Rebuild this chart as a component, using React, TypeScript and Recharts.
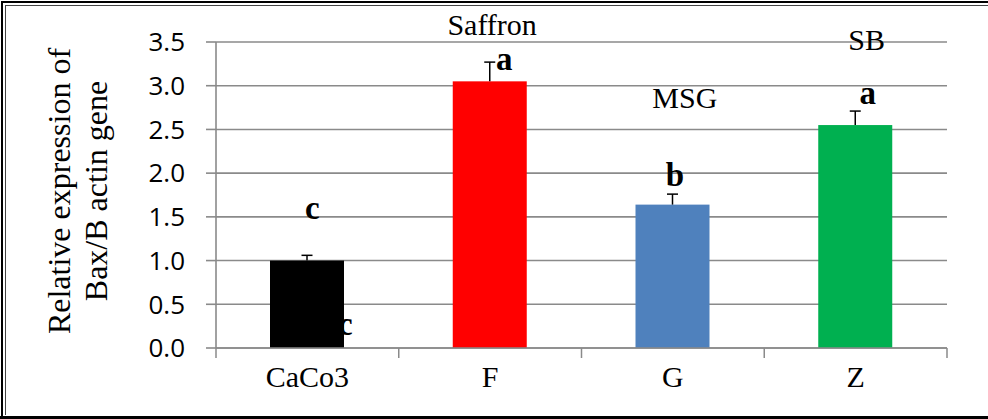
import React from 'react';
import { ComposedChart, Bar, XAxis, YAxis, CartesianGrid, ReferenceDot, Label } from 'recharts';

// groups and measured expression
const groups = ['CaCo3', 'F', 'G', 'Z'];
const expression = [1.0, 3.05, 1.64, 2.55];
const errorUp = [0.06, 0.22, 0.12, 0.16];
const barColors = ['#000000', '#ff0000', '#4f81bd', '#00b050'];
const yTicks = [0, 0.5, 1, 1.5, 2, 2.5, 3, 3.5];

// significance letters (value = height in data units where the letter sits)
const letterGroups = ['CaCo3', 'F', 'G', 'Z', 'CaCo3'];
const letterTexts = ['c', 'a', 'b', 'a', 'c'];
const letterValues = [1.6, 3.3, 1.98, 2.92, 0.27];
const letterShift = [5, 14, 2, 12, 38];

// treatment names written over the bars
const noteGroups = ['F', 'G', 'Z'];
const noteTexts = ['Saffron', 'MSG', 'SB'];
const noteValues = [3.7, 2.87, 3.53];
const noteShift = [2, 12, 11];

const data = groups.map((name, i) => ({
  name,
  value: expression[i],
  err: errorUp[i],
  color: barColors[i],
}));

const serif = '"Liberation Serif", "Times New Roman", serif';
const gridGray = '#8a8a8a';

const BarWithError = (props: any) => {
  const { x, y, width, height, payload } = props;
  const perUnit = payload.value ? height / payload.value : 0;
  const errTop = y - payload.err * perUnit;
  const cx = x + width / 2;
  return (
    <g>
      <rect x={x} y={y} width={width} height={height} fill={payload.color} />
      <line x1={cx} y1={y} x2={cx} y2={errTop} stroke="#000" strokeWidth={1.5} />
      <line x1={cx - 5.5} y1={errTop} x2={cx + 5.5} y2={errTop} stroke="#000" strokeWidth={1.5} />
    </g>
  );
};

const XTick = (props: any) => {
  const { x, y, payload, index } = props;
  const half = payload.offset || 91.4;
  const axisY = y - 10;
  return (
    <g>
      <line x1={x - half} y1={axisY} x2={x - half} y2={axisY + 10} stroke={gridGray} strokeWidth={1.5} />
      {index === groups.length - 1 && (
        <line x1={x + half} y1={axisY} x2={x + half} y2={axisY + 10} stroke={gridGray} strokeWidth={1.5} />
      )}
      <text x={x} y={y + 29} textAnchor="middle" fontFamily={serif} fontSize={30} fill="#000">
        {payload.value}
      </text>
    </g>
  );
};

const YTitle = (props: any) => {
  const { viewBox } = props;
  const cx = 80;
  const cy = viewBox.y + viewBox.height / 2 - 4;
  return (
    <text
      transform={`rotate(-90, ${cx}, ${cy})`}
      x={cx}
      y={cy}
      textAnchor="middle"
      fontFamily={serif}
      fontSize={32}
      fill="#000"
    >
      <tspan x={cx} dy={-10}>Relative expression of</tspan>
      <tspan x={cx} dy={37}>Bax/B actin gene</tspan>
    </text>
  );
};

export default function App() {
  return (
    <div style={{ position: 'absolute', left: 0, top: 0, width: 988, height: 419, background: '#fff', overflow: 'hidden' }}>
      <ComposedChart
        width={988}
        height={419}
        data={data}
        margin={{ top: 42, right: 41, left: 0, bottom: 0 }}
      >
        <CartesianGrid vertical={false} stroke={gridGray} strokeWidth={1.6} />
        <XAxis
          dataKey="name"
          height={71}
          tickLine={false}
          tickSize={10}
          tickMargin={0}
          axisLine={{ stroke: gridGray, strokeWidth: 1.6 }}
          tick={<XTick />}
          interval={0}
        />
        <YAxis
          width={216}
          domain={[0, 3.5]}
          ticks={yTicks}
          tickFormatter={(v: number) => v.toFixed(1)}
          tickSize={10}
          tickMargin={21}
          tickLine={{ stroke: gridGray, strokeWidth: 1.6 }}
          axisLine={{ stroke: gridGray, strokeWidth: 1.6 }}
          tick={{ fontFamily: '"Open Sans", sans-serif', fontSize: 26, fill: '#000' }}
          interval={0}
        >
          <Label content={<YTitle />} />
        </YAxis>
        <Bar dataKey="value" barSize={74} shape={<BarWithError />} isAnimationActive={false} />
        {letterTexts.map((t, i) => (
          <ReferenceDot
            key={`l${i}`}
            x={letterGroups[i]}
            y={letterValues[i]}
            r={0}
            ifOverflow="visible"
            shape={(p: any) => (
              <text
                x={p.cx + letterShift[i]}
                y={p.cy}
                textAnchor="middle"
                dominantBaseline="central"
                fontFamily={serif}
                fontWeight="bold"
                fontSize={33}
                fill="#000"
              >
                {t}
              </text>
            )}
          />
        ))}
        {noteTexts.map((t, i) => (
          <ReferenceDot
            key={`n${i}`}
            x={noteGroups[i]}
            y={noteValues[i]}
            r={0}
            ifOverflow="visible"
            shape={(p: any) => (
              <text
                x={p.cx + noteShift[i]}
                y={p.cy}
                textAnchor="middle"
                dominantBaseline="central"
                fontFamily={serif}
                fontSize={30}
                fill="#000"
              >
                {t}
              </text>
            )}
          />
        ))}
      </ComposedChart>
      <div style={{ position: 'absolute', left: 1, top: 1, width: 1000, height: 416, borderLeft: '2px solid #000', borderTop: '2px solid #000', boxSizing: 'border-box' }} />
      <div style={{ position: 'absolute', left: 5, top: 5, width: 1000, height: 410, borderLeft: '1.5px solid #444', borderTop: '1.5px solid #444', boxSizing: 'border-box' }} />
      <div style={{ position: 'absolute', left: 0, top: 416, width: 1000, height: 3, background: '#000' }} />
    </div>
  );
}
